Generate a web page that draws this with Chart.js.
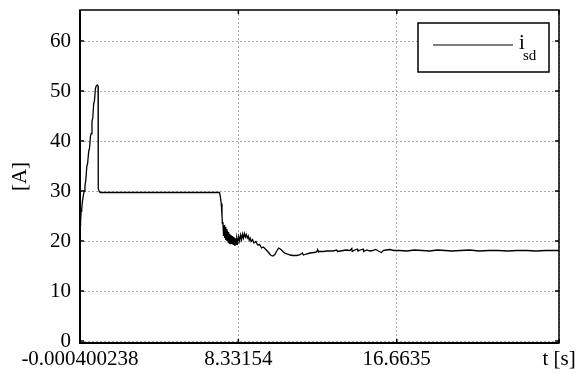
<!DOCTYPE html>
<html>
<head>
<meta charset="utf-8">
<script src="https://cdn.jsdelivr.net/npm/chart.js@4"></script>
<style>
  html, body { margin: 0; padding: 0; background: #fff; }
  #wrap { width: 584px; height: 374px; }
</style>
</head>
<body>
<div id="wrap"><canvas id="c" width="584" height="374"></canvas></div>
<script>
const xTickValues = [-0.000400238, 8.33154, 16.6635, 25.2];
const xTickLabels = ["-0.000400238", "8.33154", "16.6635", "t [s]"];
const yTickValues = [0, 10, 20, 30, 40, 50, 60];
const seriesName = "i";
const seriesSub = "sd";

const time = [
  -0.0004, 0.03, 0.06, 0.09, 0.13, 0.17, 0.22, 0.26, 0.30, 0.36, 0.40, 0.46, 0.50, 0.55, 0.59, 0.63, 0.67, 0.72, 0.76, 0.81, 0.85, 0.90, 0.95, 0.96, 1.00, 1.06,
  7.34, 7.38, 7.43, 7.47, 7.49,
  7.52, 7.55, 7.58, 7.61, 7.64, 7.67, 7.70, 7.73, 7.76, 7.79, 7.82, 7.85, 7.88, 7.91, 7.94, 7.97, 8.00, 8.03, 8.06, 8.09, 8.12, 8.15, 8.18, 8.21, 8.25, 8.30,
  8.35, 8.40, 8.45, 8.50, 8.55, 8.60, 8.65, 8.70, 8.75, 8.80, 8.85, 8.90, 8.95, 9.00, 9.08, 9.15, 9.25, 9.35, 9.45, 9.55, 9.65, 9.80, 9.90, 10.00, 10.06,
  10.15, 10.25, 10.35, 10.45, 10.50, 10.60, 10.70, 10.80, 10.92, 11.05, 11.20, 11.38, 11.55, 11.70, 11.75, 11.90, 12.10, 12.30, 12.45, 12.50, 12.55, 12.60,
  12.80, 13.00, 13.30, 13.50, 13.55, 13.70, 14.00, 14.20, 14.30, 14.32, 14.45, 14.60, 14.62, 14.75, 14.90, 14.92, 15.10, 15.25, 15.40, 15.55, 15.70, 15.86,
  15.95, 16.10, 16.30, 16.50, 16.80, 17.20, 17.60, 18.00, 18.40, 18.80, 19.20, 19.60, 20.00, 20.50, 21.00, 21.50, 22.00, 22.50, 23.00, 23.50, 24.00, 24.50, 25.20
];
const current = [
  23.2, 24.0, 26.0, 26.5, 28.0, 29.0, 30.0, 31.0, 32.0, 35.0, 35.5, 38.0, 38.5, 41.0, 41.5, 44.0, 44.5, 47.5, 48.0, 50.5, 51.0, 51.2, 51.0, 30.5, 30.0, 29.7,
  29.7, 29.0, 27.5, 25.0, 23.5,
  23.8, 21.0, 23.2, 20.6, 22.8, 20.2, 22.4, 20.0, 22.0, 19.8, 21.8, 19.6, 21.4, 19.5, 21.2, 19.4, 21.0, 19.3, 20.8, 19.2, 20.6, 19.0, 20.5, 19.4, 20.6, 19.7,
  20.9, 20.0, 21.2, 20.3, 21.4, 20.6, 21.5, 20.8, 21.3, 20.6, 21.0, 20.2, 20.6, 19.9, 20.3, 19.6, 19.9, 19.2, 19.3, 18.6, 18.8, 18.2, 17.8, 17.3, 17.1,
  17.0, 17.3, 18.0, 18.6, 18.5, 18.2, 17.8, 17.5, 17.4, 17.2, 17.1, 17.1, 17.2, 17.6, 17.2, 17.4, 17.6, 17.7, 17.8, 18.3, 17.8, 17.9,
  17.9, 18.0, 18.0, 18.2, 17.9, 18.0, 18.2, 18.1, 18.5, 17.9, 18.2, 18.4, 18.0, 18.2, 18.4, 17.9, 18.2, 18.0, 18.1, 18.3, 18.0, 17.7,
  18.1, 18.2, 18.3, 18.1, 18.1, 18.0, 18.2, 18.1, 18.0, 18.2, 18.1, 18.0, 18.1, 18.2, 18.0, 18.1, 18.1, 18.0, 18.1, 18.1, 18.0, 18.1, 18.1
];

const FONT = "'Liberation Serif', 'Times New Roman', serif";

const framePlugin = {
  id: 'frame',
  afterDraw(chart) {
    const ctx = chart.ctx, a = chart.chartArea;
    ctx.save();
    ctx.strokeStyle = '#000';
    ctx.lineWidth = 1.5;
    ctx.strokeRect(a.left, a.top, a.right - a.left, a.bottom - a.top);
    ctx.lineWidth = 2;
    ctx.beginPath(); ctx.moveTo(a.left, a.top); ctx.lineTo(a.left, a.bottom); ctx.lineTo(a.right, a.bottom); ctx.stroke();
    // small inward tick marks
    ctx.lineWidth = 1.5;
    const xs = chart.scales.x, ys = chart.scales.y;
    xs.ticks.forEach(t => {
      const px = xs.getPixelForValue(t.value);
      ctx.beginPath(); ctx.moveTo(px, a.bottom); ctx.lineTo(px, a.bottom - 4); ctx.stroke();
      ctx.beginPath(); ctx.moveTo(px, a.top); ctx.lineTo(px, a.top + 4); ctx.stroke();
    });
    ys.ticks.forEach(t => {
      const py = ys.getPixelForValue(t.value);
      ctx.beginPath(); ctx.moveTo(a.left, py); ctx.lineTo(a.left + 4, py); ctx.stroke();
      ctx.beginPath(); ctx.moveTo(a.right, py); ctx.lineTo(a.right - 4, py); ctx.stroke();
    });
    // legend box
    const bx = a.right - 141, by = a.top + 13, bw = 131, bh = 49;
    ctx.fillStyle = '#fff';
    ctx.fillRect(bx, by, bw, bh);
    ctx.lineWidth = 1.5;
    ctx.strokeRect(bx, by, bw, bh);
    ctx.lineWidth = 1.2;
    ctx.beginPath(); ctx.moveTo(bx + 15, by + 22); ctx.lineTo(bx + 95, by + 22); ctx.stroke();
    ctx.fillStyle = '#000';
    ctx.textBaseline = 'alphabetic';
    ctx.textAlign = 'left';
    ctx.font = "21px " + FONT;
    ctx.fillText(seriesName, bx + 101, by + 26);
    ctx.font = "15px " + FONT;
    ctx.fillText(seriesSub, bx + 105, by + 37);
    ctx.restore();
  }
};

new Chart(document.getElementById('c'), {
  type: 'line',
  data: {
    datasets: [{
      label: 'isd',
      data: time.map((t, i) => ({ x: t, y: current[i] })),
      borderColor: '#000',
      borderWidth: 1.3,
      pointRadius: 0,
      tension: 0,
      fill: false
    }]
  },
  options: {
    responsive: false,
    animation: false,
    events: [],
    layout: { padding: { top: 10, right: 25, left: 0, bottom: 0 } },
    plugins: { legend: { display: false }, tooltip: { enabled: false } },
    scales: {
      x: {
        type: 'linear',
        min: -0.000400238,
        max: 25.2,
        afterBuildTicks: s => { s.ticks = xTickValues.map(v => ({ value: v })); },
        afterFit: s => { s.height = 31; s.paddingLeft = 0; s.paddingRight = 0; },
        ticks: {
          autoSkip: false,
          maxRotation: 0,
          padding: 4,
          color: '#000',
          font: { family: FONT, size: 21 },
          callback: (v, i) => xTickLabels[i]
        },
        grid: { color: '#aaa', lineWidth: 1, drawTicks: false },
        border: { display: false, dash: [2, 2] }
      },
      y: {
        type: 'linear',
        min: -0.4,
        max: 66.2,
        afterBuildTicks: s => { s.ticks = yTickValues.map(v => ({ value: v })); },
        afterFit: s => { s.width = 80; s.paddingTop = 0; s.paddingBottom = 0; },
        ticks: {
          padding: 9,
          color: '#000',
          font: { family: FONT, size: 21 },
          callback: v => String(v)
        },
        grid: { color: '#aaa', lineWidth: 1, drawTicks: false },
        border: { display: false, dash: [2, 2] },
        title: {
          display: true,
          text: '[A]',
          color: '#000',
          font: { family: FONT, size: 21 },
          padding: { top: 8, bottom: 0 }
        }
      }
    }
  },
  plugins: [framePlugin]
});
</script>
</body>
</html>
